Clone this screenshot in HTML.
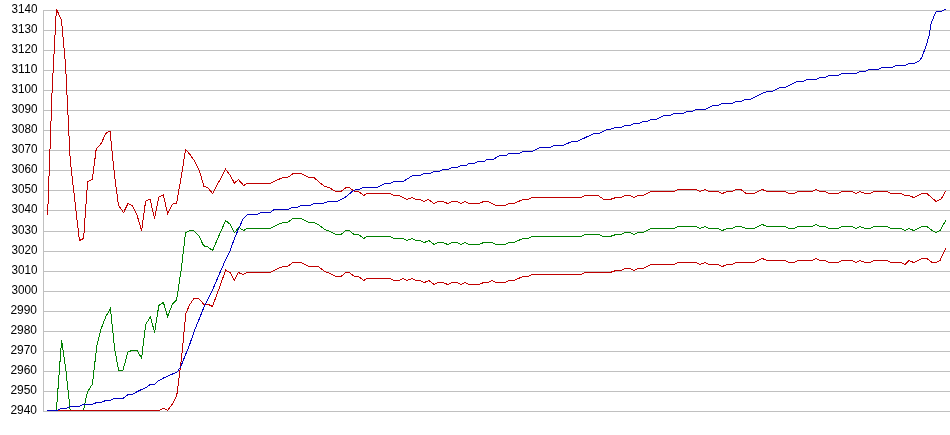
<!DOCTYPE html>
<html>
<head>
<meta charset="utf-8">
<title>Chart</title>
<style>
html,body{margin:0;padding:0;background:#fff;}
svg{display:block;}
.lbl{font-family:"Liberation Sans",Arial,sans-serif;font-size:12px;fill:#000;text-anchor:end;}
.grid line{stroke:#c0c0c0;stroke-width:1;shape-rendering:crispEdges;}
.series polyline{fill:none;stroke-width:1;stroke-linejoin:miter;shape-rendering:crispEdges;}
</style>
</head>
<body>
<svg width="950" height="435" viewBox="0 0 950 435">
<rect x="0" y="0" width="950" height="435" fill="#ffffff"/>
<g class="grid">
<line x1="43" y1="10.5" x2="950" y2="10.5"/>
<line x1="43" y1="30.5" x2="950" y2="30.5"/>
<line x1="43" y1="50.5" x2="950" y2="50.5"/>
<line x1="43" y1="70.5" x2="950" y2="70.5"/>
<line x1="43" y1="90.5" x2="950" y2="90.5"/>
<line x1="43" y1="110.5" x2="950" y2="110.5"/>
<line x1="43" y1="130.5" x2="950" y2="130.5"/>
<line x1="43" y1="150.5" x2="950" y2="150.5"/>
<line x1="43" y1="170.5" x2="950" y2="170.5"/>
<line x1="43" y1="190.5" x2="950" y2="190.5"/>
<line x1="43" y1="210.5" x2="950" y2="210.5"/>
<line x1="43" y1="231.5" x2="950" y2="231.5"/>
<line x1="43" y1="251.5" x2="950" y2="251.5"/>
<line x1="43" y1="271.5" x2="950" y2="271.5"/>
<line x1="43" y1="291.5" x2="950" y2="291.5"/>
<line x1="43" y1="311.5" x2="950" y2="311.5"/>
<line x1="43" y1="331.5" x2="950" y2="331.5"/>
<line x1="43" y1="351.5" x2="950" y2="351.5"/>
<line x1="43" y1="371.5" x2="950" y2="371.5"/>
<line x1="43" y1="391.5" x2="950" y2="391.5"/>
<line x1="43" y1="411.5" x2="950" y2="411.5"/>
<line x1="43.5" y1="10" x2="43.5" y2="412"/>
</g>
<g style="filter:grayscale(1)">
<text class="lbl" x="37.4" y="12.8" textLength="26" lengthAdjust="spacingAndGlyphs">3140</text>
<text class="lbl" x="37.4" y="32.8" textLength="26" lengthAdjust="spacingAndGlyphs">3130</text>
<text class="lbl" x="37.4" y="52.8" textLength="26" lengthAdjust="spacingAndGlyphs">3120</text>
<text class="lbl" x="37.4" y="72.8" textLength="26" lengthAdjust="spacingAndGlyphs">3110</text>
<text class="lbl" x="37.4" y="92.8" textLength="26" lengthAdjust="spacingAndGlyphs">3100</text>
<text class="lbl" x="37.4" y="112.8" textLength="26" lengthAdjust="spacingAndGlyphs">3090</text>
<text class="lbl" x="37.4" y="132.8" textLength="26" lengthAdjust="spacingAndGlyphs">3080</text>
<text class="lbl" x="37.4" y="152.8" textLength="26" lengthAdjust="spacingAndGlyphs">3070</text>
<text class="lbl" x="37.4" y="172.8" textLength="26" lengthAdjust="spacingAndGlyphs">3060</text>
<text class="lbl" x="37.4" y="192.8" textLength="26" lengthAdjust="spacingAndGlyphs">3050</text>
<text class="lbl" x="37.4" y="212.8" textLength="26" lengthAdjust="spacingAndGlyphs">3040</text>
<text class="lbl" x="37.4" y="233.8" textLength="26" lengthAdjust="spacingAndGlyphs">3030</text>
<text class="lbl" x="37.4" y="253.8" textLength="26" lengthAdjust="spacingAndGlyphs">3020</text>
<text class="lbl" x="37.4" y="273.8" textLength="26" lengthAdjust="spacingAndGlyphs">3010</text>
<text class="lbl" x="37.4" y="293.8" textLength="26" lengthAdjust="spacingAndGlyphs">3000</text>
<text class="lbl" x="37.0" y="313.8" textLength="26.6" lengthAdjust="spacingAndGlyphs">2990</text>
<text class="lbl" x="37.0" y="333.8" textLength="26.6" lengthAdjust="spacingAndGlyphs">2980</text>
<text class="lbl" x="37.0" y="353.8" textLength="26.6" lengthAdjust="spacingAndGlyphs">2970</text>
<text class="lbl" x="37.0" y="373.8" textLength="26.6" lengthAdjust="spacingAndGlyphs">2960</text>
<text class="lbl" x="37.0" y="393.8" textLength="26.6" lengthAdjust="spacingAndGlyphs">2950</text>
<text class="lbl" x="37.0" y="413.8" textLength="26.6" lengthAdjust="spacingAndGlyphs">2940</text>
</g>
<g class="series">
<polyline stroke="#c00000" points="47.6,215.1 52.2,88.1 56.4,9.1 61.5,20.1 65.6,66.1 70.2,160.1 74.8,200.1 79.4,240.5 83.6,238.5 87.6,181.7 92.4,179.1 96.2,149.1 101.5,143.1 105.6,133.5 110.0,131.1 114.4,174.1 118.4,205.1 123.6,212.5 128.0,203.5 132.4,205.7 137.0,215.1 141.6,230.7 145.6,201.1 150.0,199.1 154.6,218.5 158.8,197.1 163.4,195.1 167.6,214.1 172.4,204.1 176.6,203.1 181.5,175.1 185.6,149.5 190.0,154.6 194.0,160.1 199.2,170.1 203.8,186.1 208.0,188.1 212.6,193.5 217.0,185.1 221.5,177.1 225.6,169.1 230.0,175.1 234.4,183.1 238.4,179.5 243.6,185.5 247.0,183.5 270.0,183.5 278.0,179.7 283.0,177.5 287.6,177.5 293.0,173.7 301.0,173.7 309.0,177.5 314.0,177.5 319.0,182.1 325.0,186.5 330.0,188.1 336.0,191.5 341.0,191.5 346.0,187.5 349.4,187.5 354.0,191.1 358.6,191.5 363.6,195.5 367.0,193.5 390.0,193.5 394.0,195.5 399.0,195.5 407.0,199.5 412.0,197.5 416.0,199.5 420.0,199.5 424.0,201.7 428.4,199.5 434.0,203.5 438.0,201.5 443.0,201.5 447.6,203.5 452.0,201.5 457.0,201.5 461.0,203.5 465.0,201.5 469.0,203.5 479.0,203.5 483.6,201.5 488.0,201.5 496.0,205.5 505.0,205.5 509.0,203.5 514.0,203.5 523.0,199.5 528.0,199.5 532.0,197.5 581.0,197.5 585.0,195.5 598.0,195.5 604.0,199.5 610.0,199.5 616.0,197.5 621.0,197.5 625.0,195.5 630.0,195.5 634.0,197.5 638.0,195.5 643.0,195.5 651.0,191.5 674.0,191.5 678.0,189.5 696.0,189.5 700.0,191.5 705.0,189.5 709.0,191.5 718.0,191.5 722.4,193.5 727.0,191.5 732.0,191.5 736.0,189.5 741.0,189.5 746.0,193.5 754.0,193.5 762.4,189.5 767.0,191.5 785.0,191.5 789.0,193.5 794.0,193.5 798.0,191.5 812.0,191.5 816.0,189.5 820.0,191.5 825.0,191.5 829.0,193.5 838.0,193.5 842.0,191.5 852.0,191.5 856.0,193.5 860.0,191.5 865.0,193.5 870.0,193.5 874.0,191.5 887.0,191.5 891.0,193.5 901.0,193.5 905.0,195.5 909.0,195.5 913.6,197.5 922.0,193.5 927.0,193.5 936.0,201.5 941.0,199.1 946.0,190.7"/>
<polyline stroke="#008000" points="47.0,410.5 56.4,410.5 61.6,340.1 65.8,369.1 70.2,410.5 83.4,410.5 87.4,392.1 92.4,384.1 96.8,346.1 101.0,329.1 105.6,317.1 110.4,308.5 114.7,349.1 118.6,370.1 123.0,370.1 128.0,351.7 132.4,350.5 137.0,350.5 141.6,358.1 145.6,324.7 150.4,316.7 154.6,332.5 158.8,305.5 163.4,302.5 167.6,316.5 172.4,304.1 176.6,300.1 181.4,268.1 185.6,232.5 190.0,230.5 194.0,230.7 199.0,236.1 203.6,245.7 208.0,247.1 212.6,250.5 217.0,240.1 221.4,230.1 225.6,220.5 230.0,224.1 234.4,232.5 239.0,227.5 243.6,230.5 247.0,228.5 270.0,228.5 278.0,224.5 283.0,222.5 287.6,222.5 293.0,218.5 301.0,218.5 309.0,222.5 314.0,222.5 319.0,225.1 325.0,229.5 330.0,231.5 336.0,234.5 341.0,234.5 345.6,230.5 349.4,230.5 354.0,234.5 358.6,234.5 363.6,238.5 367.0,236.5 390.0,236.5 394.0,238.5 403.0,238.5 407.0,240.5 412.0,238.5 416.0,240.5 420.0,240.5 424.4,242.5 429.0,240.5 434.0,244.5 438.0,242.5 443.0,242.5 447.6,244.5 452.0,242.5 457.0,242.5 461.0,244.5 465.0,242.5 469.0,244.5 479.0,244.5 483.6,242.5 492.0,242.5 496.0,244.5 505.0,244.5 509.0,242.5 514.0,242.5 523.0,238.5 528.0,238.5 532.0,236.5 581.0,236.5 585.0,234.5 599.0,234.5 603.0,236.5 610.0,236.5 616.0,234.5 621.0,234.5 625.0,232.5 630.0,232.5 634.0,234.5 638.0,232.5 643.0,232.5 651.0,228.5 674.0,228.5 678.0,226.5 696.0,226.5 700.0,228.5 705.0,226.5 709.0,228.5 718.0,228.5 722.4,230.5 727.0,228.5 732.0,228.5 736.0,226.5 741.0,226.5 746.0,228.5 754.0,228.5 762.4,224.5 767.0,226.5 785.0,226.5 789.0,228.5 794.0,228.5 798.0,226.5 812.0,226.5 816.0,224.5 820.0,226.5 825.0,226.5 829.0,228.5 838.0,228.5 842.0,226.5 852.0,226.5 856.0,228.5 860.0,226.5 865.0,228.5 870.0,228.5 874.0,226.5 887.0,226.5 891.0,228.5 901.0,228.5 905.0,230.5 909.0,228.5 913.6,230.5 922.0,226.5 927.0,226.5 932.0,230.5 936.0,232.5 940.0,230.5 946.0,220.1"/>
<polyline stroke="#c00000" points="47.0,410.5 159.4,410.5 163.4,408.1 167.6,410.5 172.4,404.1 176.8,395.1 181.7,356.6 185.8,313.5 190.0,304.1 194.0,298.5 198.6,298.5 204.0,304.5 207.6,304.1 212.4,306.5 217.0,294.1 221.4,282.1 225.6,270.1 230.0,272.5 234.4,280.5 238.4,272.5 243.0,274.5 247.0,272.5 270.0,272.5 278.0,268.5 283.0,266.5 287.6,266.5 293.0,262.5 301.0,262.5 309.0,266.5 318.0,266.5 325.0,271.5 330.0,273.5 336.0,276.5 341.0,276.5 345.6,272.5 349.4,272.5 354.0,276.1 358.6,276.5 363.6,280.5 367.0,278.5 390.0,278.5 394.0,280.5 399.0,280.5 403.0,278.5 407.0,280.5 412.0,278.5 416.0,280.5 420.0,280.5 424.4,282.5 429.0,280.5 434.0,284.5 438.0,282.5 443.0,282.5 447.6,284.5 452.0,282.5 457.0,282.5 461.0,284.5 465.0,282.5 469.0,284.5 479.0,284.5 483.6,282.5 488.0,282.5 492.0,280.5 496.0,282.5 505.0,282.5 509.0,280.5 514.0,280.5 523.0,276.5 528.0,276.5 532.0,274.5 581.0,274.5 585.0,272.5 610.0,272.5 616.0,270.5 621.0,270.5 625.0,268.5 630.0,268.5 634.0,270.5 638.0,268.5 643.0,268.5 651.0,264.5 674.0,264.5 678.0,262.5 696.0,262.5 700.0,264.5 705.0,262.5 709.0,264.5 718.0,264.5 722.4,266.5 727.0,264.5 732.0,264.5 736.0,262.5 754.0,262.5 762.4,258.5 767.0,260.5 785.0,260.5 789.0,262.5 794.0,262.5 798.0,260.5 812.0,260.5 816.0,258.5 820.0,260.5 825.0,260.5 829.0,262.5 838.0,262.5 842.0,260.5 852.0,260.5 856.0,262.5 860.0,260.5 865.0,262.5 870.0,262.5 874.0,260.5 887.0,260.5 891.0,262.5 901.0,262.5 905.0,264.5 909.0,260.5 913.6,262.5 922.0,258.5 927.0,258.5 932.0,262.5 936.0,262.5 940.0,260.5 942.4,255.1 946.0,248.1"/>
<polyline stroke="#0000c0" points="47.0,410.5 57.0,410.5 61.0,408.5 66.0,408.5 70.0,406.5 79.0,406.5 83.0,404.7 92.0,404.5 96.6,402.5 101.0,402.5 105.6,400.5 110.0,400.5 114.4,398.5 123.0,398.5 128.0,394.5 132.4,394.5 137.0,391.7 141.6,389.5 146.0,387.5 150.4,384.5 154.6,384.5 158.8,380.5 163.4,378.1 168.0,376.1 172.4,374.1 177.6,371.7 181.0,366.1 185.6,354.5 188.4,348.1 194.3,331.1 204.0,307.1 212.0,291.1 225.0,261.1 230.0,250.7 235.0,237.1 243.0,219.1 247.6,214.5 257.0,214.5 261.0,212.7 270.0,212.5 274.4,209.5 288.0,209.5 292.0,207.7 297.0,207.7 301.0,205.7 310.0,205.5 314.0,203.7 323.0,203.5 327.4,201.7 337.0,201.5 345.0,197.5 354.0,190.1 358.0,189.7 363.0,187.7 377.0,187.5 385.0,183.7 390.0,183.5 394.0,181.7 403.0,181.5 412.4,175.7 420.0,175.5 424.0,173.5 430.0,173.5 434.0,171.5 439.0,171.5 443.0,169.5 448.0,169.5 452.0,167.5 457.0,167.5 461.0,165.5 466.0,165.5 469.0,163.5 474.0,163.5 478.0,161.5 484.0,161.5 487.0,159.5 493.0,159.5 500.0,155.5 506.0,155.5 509.0,153.5 519.0,153.5 523.0,151.5 532.0,151.5 540.0,147.5 550.0,147.5 554.0,145.5 563.0,145.5 572.0,141.5 577.0,141.5 594.0,133.5 599.0,133.5 607.0,129.5 610.0,129.5 615.0,127.5 621.0,127.5 625.0,125.5 630.0,125.5 634.0,123.5 639.0,123.5 643.0,121.5 647.0,121.5 651.0,119.5 656.0,119.5 664.0,115.5 670.0,115.5 674.0,113.5 683.0,113.5 687.0,111.5 692.0,111.5 696.0,109.5 705.0,109.5 713.0,105.5 718.0,105.5 722.0,103.5 732.0,103.5 736.0,101.5 741.0,101.5 745.0,99.5 750.0,99.5 762.0,93.5 767.0,91.5 772.0,91.5 780.0,87.5 785.0,87.5 793.0,83.5 797.0,81.5 803.0,81.5 807.0,79.5 816.0,79.5 820.0,77.5 825.0,77.5 829.0,75.5 838.0,75.5 842.0,73.5 856.0,73.5 860.0,71.5 865.0,71.5 869.0,69.5 878.0,69.5 882.0,67.5 892.0,67.5 896.0,65.5 905.0,65.5 909.0,63.5 914.0,63.5 919.0,61.1 922.0,57.1 926.0,46.1 929.0,36.1 931.0,24.1 934.0,16.1 936.4,11.5 941.0,11.5 945.0,9.5 946.0,9.5"/>
</g>
</svg>
</body>
</html>
